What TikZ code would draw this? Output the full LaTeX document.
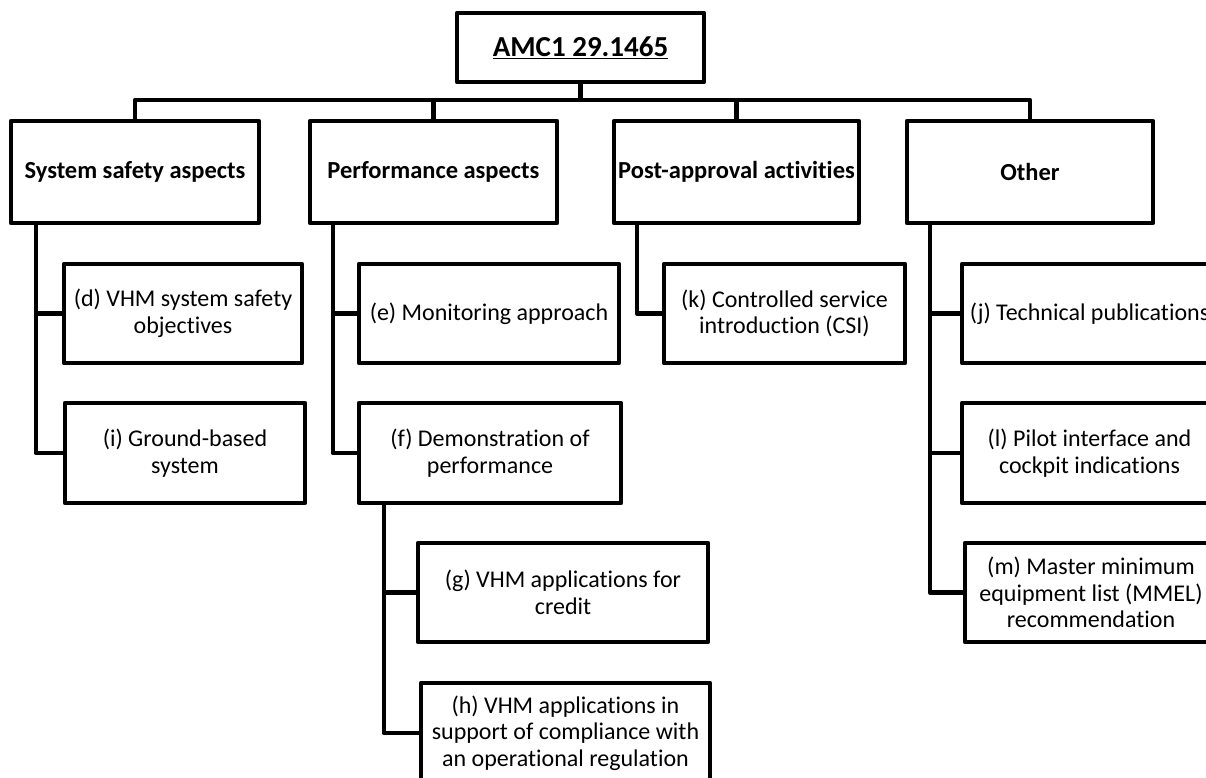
\documentclass[tikz,border=0pt]{standalone}
\usepackage{fontspec}
\setmainfont{Carlito}[Ligatures=NoCommon]
\usetikzlibrary{calc}
\begin{document}
\begin{tikzpicture}[x=1pt,y=-1pt,line join=round,
  conn/.style={draw,line width=4.5pt},
  box/.style={draw,line width=4.5pt,inner sep=0pt,align=center,
    font=\fontsize{24}{26.5}\selectfont},
  head/.style={box,font=\fontsize{24.5}{27}\selectfont\bfseries},
  titlebox/.style={box,font=\fontsize{29}{32}\selectfont\bfseries}]
\useasboundingbox (0,0) rectangle (1206,778);
% top
\node[titlebox,minimum width=247pt,minimum height=69pt] (top) at (580.5,47.5) {\underline{AMC1 29.1465}};
% level 1
\node[head,minimum width=248pt,minimum height=102pt] (b1) at (135,172) {System safety aspects};
\node[head,minimum width=247pt,minimum height=102pt] (b2) at (433.5,172) {Performance aspects};
\node[head,minimum width=245pt,minimum height=102pt] (b3) at (736.5,172) {Post-approval activities};
\node[head,minimum width=246pt,minimum height=102pt] (b4) at (1030,172) {Other};
% level 2
\node[box,minimum width=238pt,minimum height=99pt] (d) at (183,313.5) {(d) VHM system safety\\objectives};
\node[box,minimum width=240pt,minimum height=100pt] (i) at (185,453) {(i) Ground-based\\system};
\node[box,minimum width=260pt,minimum height=99pt] (e) at (489,313.5) {(e) Monitoring approach};
\node[box,minimum width=262pt,minimum height=100pt] (f) at (490,453) {(f) Demonstration of\\performance};
\node[box,minimum width=290pt,minimum height=99pt] (g) at (563,592.5) {(g) VHM applications for\\credit};
\node[box,minimum width=289pt,minimum height=100pt] (h) at (565.5,733) {(h) VHM applications in\\support of compliance with\\an operational regulation};
\node[box,minimum width=241pt,minimum height=99pt] (k) at (784.5,313.5) {(k) Controlled service\\introduction (CSI)};
\node[box,minimum width=255pt,minimum height=99pt] (j) at (1089.5,313.5) {(j) Technical publications};
\node[box,minimum width=255pt,minimum height=100pt] (l) at (1089.5,453) {(l) Pilot interface and\\cockpit indications};
\node[box,minimum width=252pt,minimum height=99pt] (m) at (1091,592.5) {(m) Master minimum\\equipment list (MMEL)\\recommendation};
% connectors
\coordinate (busy) at (0,100);
\draw[conn] (top.south) -- (top.south |- busy);
\draw[conn] (b1.north) -- (b1.north |- busy) -- (b4.north |- busy) -- (b4.north);
\draw[conn] (b2.north) -- (b2.north |- busy);
\draw[conn] (b3.north) -- (b3.north |- busy);
\coordinate (c1) at ($(b1.south west)+(27,0)$);
\draw[conn] (c1) |- (i.west);
\draw[conn] (c1 |- d.west) -- (d.west);
\coordinate (c2) at ($(b2.south west)+(25,0)$);
\draw[conn] (c2) |- (f.west);
\draw[conn] (c2 |- e.west) -- (e.west);
\coordinate (c3) at ($(f.south west)+(27,0)$);
\draw[conn] (c3) |- (h.west);
\draw[conn] (c3 |- g.west) -- (g.west);
\coordinate (c4) at ($(b3.south west)+(25,0)$);
\draw[conn] (c4) |- (k.west);
\coordinate (c5) at ($(b4.south west)+(25,0)$);
\draw[conn] (c5) |- (m.west);
\draw[conn] (c5 |- j.west) -- (j.west);
\draw[conn] (c5 |- l.west) -- (l.west);
\end{tikzpicture}
\end{document}
